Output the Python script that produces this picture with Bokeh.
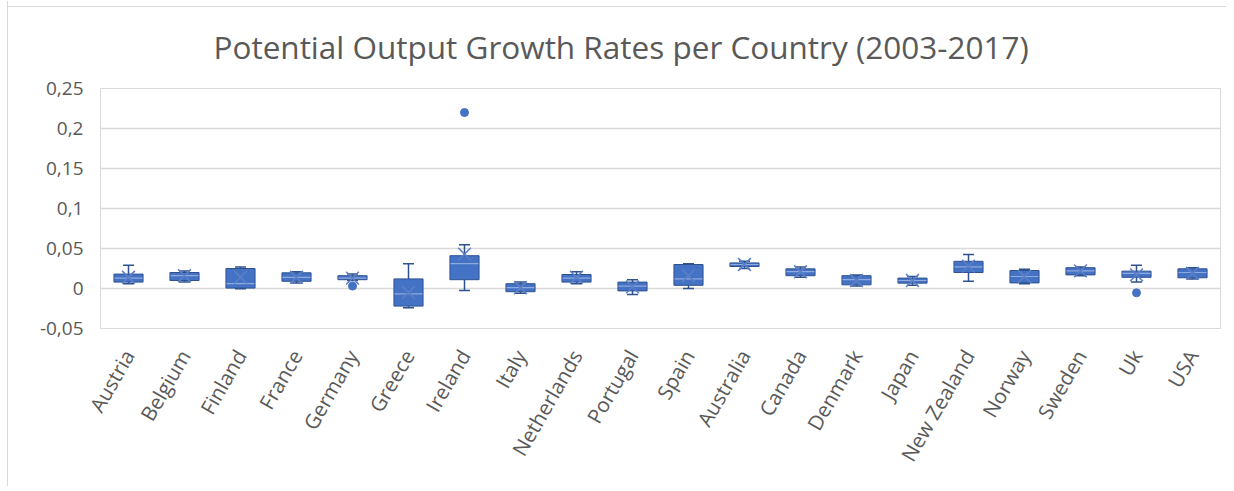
import math
from bokeh.plotting import figure
from bokeh.models import FactorRange, Range1d, FixedTicker
from bokeh.embed import file_html
from bokeh.resources import INLINE

countries = ["Austria", "Belgium", "Finland", "France", "Germany", "Greece", "Ireland",
             "Italy", "Netherlands", "Portugal", "Spain", "Australia", "Canada", "Denmark",
             "Japan", "New Zealand", "Norway", "Sweden", "Uk", "USA"]
whisker_low = [0.006, 0.008, -0.0002, 0.007, 0.010, -0.024, -0.0025, -0.006, 0.006, -0.0075,
               0.000, 0.025, 0.014, 0.003, 0.004, 0.009, 0.006, 0.016, 0.008, 0.012]
q1 = [0.008, 0.010, 0.0005, 0.009, 0.011, -0.022, 0.011, -0.004, 0.008, -0.003,
      0.004, 0.0275, 0.016, 0.0046, 0.0067, 0.020, 0.007, 0.017, 0.014, 0.0134]
median = [0.013, 0.016, 0.006, 0.014, 0.013, -0.0067, 0.031, 0.001, 0.013, 0.003,
          0.012, 0.030, 0.021, 0.011, 0.010, 0.027, 0.015, 0.022, 0.019, 0.020]
q3 = [0.018, 0.020, 0.025, 0.0196, 0.016, 0.012, 0.041, 0.006, 0.0175, 0.008,
      0.030, 0.032, 0.0246, 0.016, 0.013, 0.034, 0.0225, 0.026, 0.0217, 0.0246]
whisker_high = [0.029, 0.022, 0.027, 0.021, 0.018, 0.031, 0.0546, 0.008, 0.021, 0.011,
                0.031, 0.034, 0.027, 0.017, 0.015, 0.0425, 0.024, 0.027, 0.029, 0.026]
mean = [0.014, 0.016, 0.014, 0.014, 0.013, -0.005, 0.043, 0.001, 0.014, 0.002,
        0.016, 0.030, 0.021, 0.010, 0.010, 0.028, 0.015, 0.022, 0.017, 0.019]
outlier_country = ["Ireland", "Germany", "Uk"]
outlier_value = [0.22, 0.003, -0.0054]

y_ticks = [-0.05, 0.0, 0.05, 0.1, 0.15, 0.2, 0.25]
y_tick_labels = ["-0,05", "0", "0,05", "0,1", "0,15", "0,2", "0,25"]

BLUE = "#4472C4"
EDGE = "#2F528F"
TEXT = "#595959"
FONT = "Open Sans"

p = figure(x_range=FactorRange(*countries), y_range=Range1d(-0.05, 0.25),
           width=1218, height=485, output_backend="svg", toolbar_location=None,
           min_border_left=92, min_border_right=6, min_border_top=87, min_border_bottom=158)
p.border_fill_color = None
p.background_fill_color = "white"
p.styles = {"margin-left": "8px", "margin-top": "1px", "background": "white",
            "box-shadow": "-1px 0 0 #D9D9D9, inset 0 5px 0 0 white, inset 0 6px 0 0 #D9D9D9"}

p.title.text = "Potential Output Growth Rates per Country (2003-2017)"
p.title.align = "left"
p.title.offset = 113
p.title.standoff = 42
p.title.text_font = FONT
p.title.text_font_size = "31.5px"
p.title.text_font_style = "normal"
p.title.text_color = TEXT

p.outline_line_color = "#D9D9D9"
p.xgrid.grid_line_color = None
p.ygrid.grid_line_color = "#D9D9D9"
p.ygrid.grid_line_width = 1.5

p.yaxis.ticker = FixedTicker(ticks=y_ticks)
p.yaxis.major_label_overrides = {t: l for t, l in zip(y_ticks, y_tick_labels)}
for ax in (p.xaxis, p.yaxis):
    ax.axis_line_color = None
    ax.major_tick_line_color = None
    ax.minor_tick_line_color = None
    ax.major_tick_out = 0
    ax.major_tick_in = 0
    ax.major_label_text_font = FONT
    ax.major_label_text_color = TEXT
p.yaxis.major_label_text_font_size = "19px"
p.xaxis.major_label_text_font_size = "20.5px"
p.yaxis.major_label_standoff = 17
p.xaxis.major_label_standoff = 23
p.xaxis.major_label_orientation = math.pi / 3

# whiskers
p.segment(x0=countries, y0=q3, x1=countries, y1=whisker_high, line_color=EDGE, line_width=1.5)
p.segment(x0=countries, y0=q1, x1=countries, y1=whisker_low, line_color=EDGE, line_width=1.5)
p.scatter(x=countries, y=whisker_high, marker="dash", size=11, line_color=EDGE, line_width=1.5)
p.scatter(x=countries, y=whisker_low, marker="dash", size=11, line_color=EDGE, line_width=1.5)
# boxes
p.vbar(x=countries, bottom=q1, top=q3, width=0.52, fill_color=BLUE, line_color=EDGE, line_width=1)
# median
p.scatter(x=countries, y=median, marker="dash", size=28, line_color="#8FAADC", line_width=1.2)
# mean
p.scatter(x=countries, y=mean, marker="x", size=18, line_color="#5B7FC8", line_width=1.6)
# outliers
p.scatter(x=outlier_country, y=outlier_value, marker="circle", size=8, fill_color=BLUE, line_color=BLUE)

open("out.html", "w").write(file_html(p, INLINE))
